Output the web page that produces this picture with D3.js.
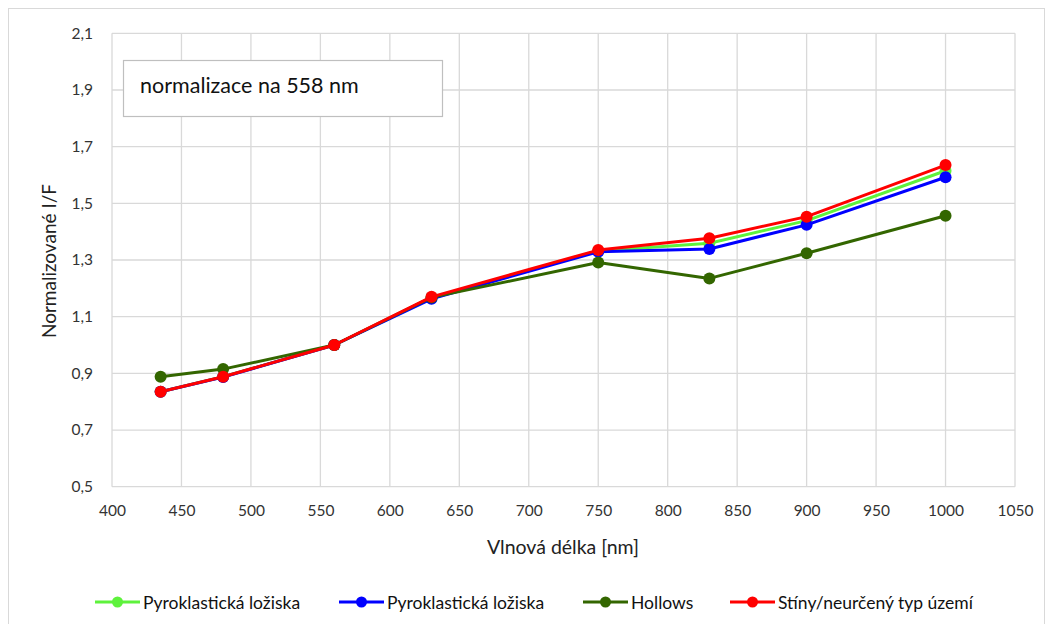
<!DOCTYPE html>
<html>
<head>
<meta charset="utf-8">
<script src="https://cdn.jsdelivr.net/npm/d3@7"></script>
<style>
  html, body { margin: 0; padding: 0; background: #fff; }
  svg { display: block; font-family: Lato, "Open Sans", sans-serif; }
</style>
</head>
<body>
<svg id="chart" width="1046" height="624"></svg>
<script>
// Wavelengths of the filters [nm]
const wavelengths = [435, 480, 560, 630, 750, 830, 900, 1000];

// Normalised reflectance I/F (normalised at 558 nm)
const pyroA   = [0.835, 0.888, 1.000, 1.165, 1.332, 1.359, 1.439, 1.615];
const pyroB   = [0.835, 0.887, 1.000, 1.163, 1.329, 1.339, 1.424, 1.592];
const hollows = [0.888, 0.915, 1.000, 1.168, 1.291, 1.235, 1.324, 1.456];
const shadows = [0.835, 0.888, 1.000, 1.170, 1.335, 1.377, 1.453, 1.635];

const seriesNames  = ["Pyroklastická ložiska", "Pyroklastická ložiska", "Hollows", "Stíny/neurčený typ území"];
const seriesValues = [pyroA, pyroB, hollows, shadows];
const seriesColors = ["#5ef23c", "#0000ff", "#336600", "#ff0000"];

const xTicks = [400, 450, 500, 550, 600, 650, 700, 750, 800, 850, 900, 950, 1000, 1050];
const yTicks = [0.5, 0.7, 0.9, 1.1, 1.3, 1.5, 1.7, 1.9, 2.1];

const svg = d3.select("#chart");
const plot = { left: 112, right: 1015, top: 33.3, bottom: 486.7 };

const x = d3.scaleLinear().domain([400, 1050]).range([plot.left, plot.right]);
const y = d3.scaleLinear().domain([0.5, 2.1]).range([plot.bottom, plot.top]);
const fmt = d => d3.format(".1f")(d).replace(".", ",");

// outer chart frame
svg.append("rect")
  .attr("x", 8.5).attr("y", 8.5).attr("width", 1036).attr("height", 640)
  .attr("fill", "none").attr("stroke", "#d9d9d9");

// gridlines
const grid = svg.append("g").attr("stroke", "#d9d9d9").attr("stroke-width", 1.3);
grid.selectAll("line.h").data(yTicks).join("line")
  .attr("x1", plot.left).attr("x2", plot.right)
  .attr("y1", d => y(d)).attr("y2", d => y(d));
grid.selectAll("line.v").data(xTicks).join("line")
  .attr("y1", plot.top).attr("y2", plot.bottom)
  .attr("x1", d => x(d)).attr("x2", d => x(d));

// axes (tick labels only)
const xAxis = svg.append("g")
  .attr("transform", `translate(0,${plot.bottom})`)
  .call(d3.axisBottom(x).tickValues(xTicks).tickSize(0).tickPadding(18).tickFormat(d3.format("d")));
const yAxis = svg.append("g")
  .attr("transform", `translate(${plot.left},0)`)
  .call(d3.axisLeft(y).tickValues(yTicks).tickSize(0).tickPadding(19).tickFormat(fmt));
[xAxis, yAxis].forEach(a => {
  a.select(".domain").remove();
  a.selectAll("text").attr("font-size", 15.5).attr("fill", "#333").attr("font-family", "Lato, sans-serif");
});

// axis titles
svg.append("text")
  .attr("x", 563).attr("y", 554).attr("text-anchor", "middle")
  .attr("font-size", 19.5).attr("fill", "#222")
  .text("Vlnová délka [nm]");
svg.append("text")
  .attr("transform", "translate(56,261) rotate(-90)").attr("text-anchor", "middle")
  .attr("font-size", 19).attr("fill", "#222")
  .text("Normalizované I/F");

// series lines and markers
const line = d3.line().x((d, i) => x(wavelengths[i])).y(d => y(d));
seriesValues.forEach((vals, s) => {
  const g = svg.append("g");
  g.append("path").datum(vals)
    .attr("d", line).attr("fill", "none")
    .attr("stroke", seriesColors[s]).attr("stroke-width", 3)
    .attr("stroke-linejoin", "round");
  g.selectAll("circle").data(vals).join("circle")
    .attr("cx", (d, i) => x(wavelengths[i])).attr("cy", d => y(d))
    .attr("r", 6).attr("fill", seriesColors[s]);
});

// annotation box
svg.append("rect")
  .attr("x", 123.5).attr("y", 60.5).attr("width", 319).attr("height", 56)
  .attr("fill", "#fff").attr("stroke", "#bfbfbf").attr("stroke-width", 1.2);
svg.append("text")
  .attr("x", 140).attr("y", 93)
  .attr("font-size", 21.5).attr("fill", "#111")
  .text("normalizace na 558 nm");

// legend
const legendX = [95, 339, 583, 730];
const legend = svg.append("g");
seriesNames.forEach((name, s) => {
  const g = legend.append("g").attr("transform", `translate(${legendX[s]},602)`);
  g.append("line").attr("x1", 0).attr("x2", 45).attr("y1", 0).attr("y2", 0)
    .attr("stroke", seriesColors[s]).attr("stroke-width", 3);
  g.append("circle").attr("cx", 22.5).attr("cy", 0).attr("r", 5.5).attr("fill", seriesColors[s]);
  g.append("text").attr("x", 48).attr("y", 6.5)
    .attr("font-size", 17.5).attr("fill", "#111").text(name);
});
</script>
</body>
</html>
